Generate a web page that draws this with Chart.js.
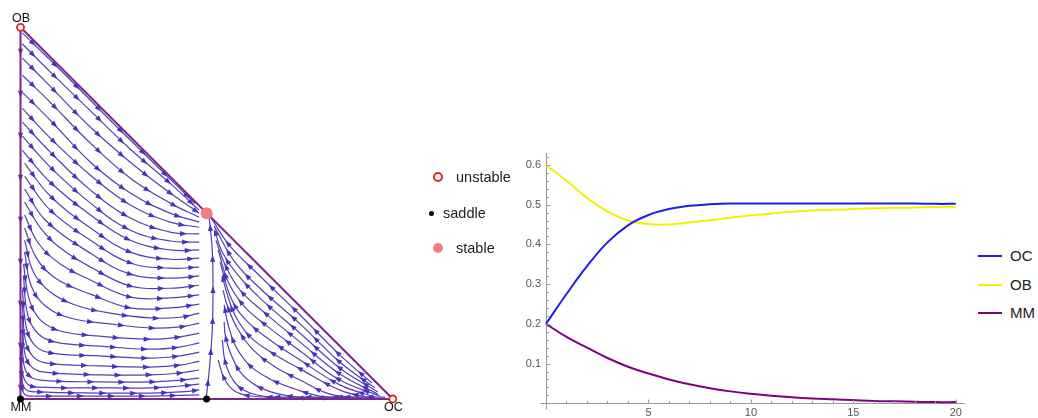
<!DOCTYPE html>
<html>
<head>
<meta charset="utf-8">
<script src="https://cdn.jsdelivr.net/npm/chart.js@4.4.1/dist/chart.umd.min.js"></script>
<style>
  body { margin:0; width:1038px; height:418px; position:relative; background:#fff; overflow:hidden;
         font-family:"Liberation Sans", Arial, sans-serif; color:#222; }
  .box { position:absolute; }
  .txt { position:absolute; white-space:nowrap; line-height:18px; }
  .mk { position:absolute; border-radius:50%; box-sizing:border-box; }
  .ln { position:absolute; height:2px; width:24px; }
</style>
</head>
<body>
<div class="box" style="left:0;top:0;width:420px;height:418px"><canvas id="tri"></canvas></div>
<div class="box" style="left:500px;top:0;width:470px;height:418px"><canvas id="ts"></canvas></div>

<!-- fixed point legend -->
<div class="mk" style="left:433px;top:172px;width:10px;height:10px;border:2px solid #e3241f;background:#fff"></div>
<div class="txt" style="left:456px;top:168px;font-size:14.5px">unstable</div>
<div class="mk" style="left:428.5px;top:210.5px;width:5px;height:5px;background:#000"></div>
<div class="txt" style="left:443px;top:204px;font-size:14.5px">saddle</div>
<div class="mk" style="left:433px;top:243px;width:10px;height:10px;background:#f08080"></div>
<div class="txt" style="left:456px;top:239px;font-size:14.5px">stable</div>

<!-- time series legend -->
<div class="ln" style="left:978px;top:255px;background:#1e1ee6"></div>
<div class="txt" style="left:1010px;top:247px;font-size:15px">OC</div>
<div class="ln" style="left:978px;top:284px;background:#f2f200"></div>
<div class="txt" style="left:1010px;top:276px;font-size:15px">OB</div>
<div class="ln" style="left:978px;top:312px;background:#800080"></div>
<div class="txt" style="left:1010px;top:304px;font-size:15px">MM</div>

<script>
// ---------------- time series data ----------------
const timeSteps = [0,1,2,3,4,5,6,7,8,9,10,11,12,13,14,15,16,17,18,19,20];
const shareOC = [0.200,0.275,0.345,0.405,0.448,0.474,0.489,0.497,0.501,0.503,0.503,0.503,0.503,0.503,0.503,0.503,0.503,0.503,0.503,0.502,0.502];
const shareOB = [0.600,0.560,0.517,0.483,0.460,0.451,0.450,0.455,0.461,0.467,0.473,0.478,0.482,0.485,0.487,0.489,0.491,0.492,0.493,0.494,0.495];
const shareMM = [0.200,0.167,0.140,0.114,0.092,0.075,0.060,0.048,0.038,0.030,0.024,0.019,0.015,0.012,0.010,0.008,0.006,0.005,0.004,0.003,0.003];
const yTickValues = [0.1,0.2,0.3,0.4,0.5,0.6];
const xTickValues = [5,10,15,20];

// ---------------- simplex (x = OC share, y = OB share) ----------------
const vertexNames = ['OB','MM','OC'];
const vertexPoints = [[0,1],[0,0],[1,0]];
const unstablePoints = [[0,1],[1,0]];
const saddlePoints = [[0,0],[0.5,0]];
const stablePoints = [[0.5,0.5]];

const edgeLeft = [[0,1],[0,0]];
const edgeBottom = [[0,0],[1,0]];
const edgeHyp = [[0,1],[1,0]];

// streamlines left of the separatrix (flow toward the stable point)
const sA00 = [[0.005,0.985],[0.107,0.885],[0.241,0.750],[0.375,0.618],[0.469,0.526]];
const sA01 = [[0.005,0.955],[0.080,0.880],[0.188,0.775],[0.295,0.672],[0.402,0.580],[0.480,0.508]];
const sA02 = [[0.005,0.917],[0.080,0.841],[0.188,0.731],[0.295,0.637],[0.402,0.554],[0.480,0.500]];
const sA03 = [[0.005,0.871],[0.080,0.798],[0.188,0.688],[0.295,0.594],[0.402,0.527],[0.480,0.489]];
const sA04 = [[0.005,0.825],[0.080,0.750],[0.188,0.637],[0.295,0.554],[0.402,0.500],[0.480,0.476]];
const sA05 = [[0.005,0.782],[0.080,0.702],[0.188,0.602],[0.295,0.522],[0.402,0.476],[0.480,0.462]];
const sA06 = [[0.005,0.745],[0.080,0.664],[0.188,0.562],[0.295,0.487],[0.402,0.449],[0.480,0.444]];
const sA07 = [[0.005,0.707],[0.080,0.624],[0.188,0.527],[0.295,0.454],[0.402,0.425],[0.480,0.422]];
const sA08 = [[0.005,0.669],[0.080,0.583],[0.188,0.495],[0.295,0.427],[0.402,0.401],[0.480,0.401]];
const sA09 = [[0.011,0.634],[0.080,0.546],[0.188,0.460],[0.295,0.395],[0.402,0.376],[0.480,0.379]];
const sA10 = [[0.011,0.599],[0.080,0.508],[0.188,0.427],[0.295,0.366],[0.402,0.352],[0.480,0.355]];
const sA11 = [[0.011,0.565],[0.067,0.481],[0.188,0.392],[0.295,0.336],[0.402,0.325],[0.480,0.331]];
const sA12 = [[0.011,0.530],[0.054,0.460],[0.107,0.406],[0.188,0.355],[0.295,0.304],[0.402,0.298],[0.480,0.306]];
const sA13 = [[0.011,0.495],[0.048,0.419],[0.107,0.363],[0.188,0.320],[0.295,0.274],[0.402,0.272],[0.480,0.280]];
const sA14 = [[0.011,0.460],[0.043,0.379],[0.094,0.325],[0.188,0.282],[0.295,0.245],[0.402,0.245],[0.480,0.255]];
const sA15 = [[0.011,0.427],[0.035,0.341],[0.080,0.288],[0.147,0.253],[0.241,0.231],[0.349,0.218],[0.429,0.220],[0.480,0.231]];
const sA16 = [[0.011,0.395],[0.029,0.304],[0.067,0.250],[0.134,0.218],[0.241,0.202],[0.349,0.191],[0.429,0.194],[0.480,0.204]];
const sA17 = [[0.008,0.363],[0.024,0.266],[0.054,0.212],[0.107,0.183],[0.214,0.169],[0.349,0.161],[0.429,0.167],[0.480,0.177]];
const sA18 = [[0.008,0.331],[0.019,0.228],[0.046,0.177],[0.094,0.153],[0.214,0.142],[0.349,0.134],[0.429,0.140],[0.480,0.151]];
const sA19 = [[0.005,0.293],[0.016,0.191],[0.038,0.145],[0.080,0.124],[0.214,0.116],[0.349,0.110],[0.429,0.116],[0.480,0.126]];
const sA20 = [[0.005,0.255],[0.013,0.159],[0.032,0.116],[0.067,0.097],[0.214,0.089],[0.349,0.086],[0.429,0.091],[0.480,0.102]];
const sA21 = [[0.005,0.218],[0.011,0.126],[0.027,0.089],[0.059,0.073],[0.214,0.065],[0.349,0.065],[0.429,0.070],[0.480,0.078]];
const sA22 = [[0.005,0.180],[0.008,0.099],[0.021,0.065],[0.054,0.051],[0.214,0.046],[0.349,0.046],[0.429,0.051],[0.480,0.056]];
const sA23 = [[0.003,0.142],[0.005,0.073],[0.019,0.040],[0.048,0.032],[0.214,0.030],[0.349,0.030],[0.429,0.035],[0.480,0.040]];
const sA24 = [[0.003,0.105],[0.005,0.046],[0.016,0.024],[0.043,0.019],[0.214,0.016],[0.349,0.016],[0.429,0.019],[0.480,0.024]];
const sA25 = [[0.003,0.067],[0.005,0.027],[0.013,0.011],[0.038,0.008],[0.214,0.008],[0.349,0.008],[0.480,0.011]];

// streamlines right of the separatrix (flow from OC toward the stable point)
const sR01 = [[0.944,0.043],[0.858,0.118],[0.751,0.226],[0.643,0.331],[0.563,0.411],[0.512,0.487]];
const sR02 = [[0.952,0.030],[0.858,0.099],[0.751,0.202],[0.643,0.298],[0.576,0.368],[0.520,0.465]];
const sR03 = [[0.960,0.019],[0.858,0.083],[0.751,0.177],[0.649,0.266],[0.584,0.333],[0.542,0.395],[0.523,0.449]];
const sR04 = [[0.960,0.013],[0.858,0.067],[0.751,0.153],[0.657,0.231],[0.590,0.293],[0.550,0.360],[0.525,0.427]];
const sR05 = [[0.965,0.008],[0.858,0.051],[0.751,0.129],[0.665,0.194],[0.603,0.247],[0.558,0.315],[0.531,0.401]];
const sR06 = [[0.952,0.005],[0.858,0.038],[0.751,0.105],[0.670,0.159],[0.611,0.207],[0.568,0.266],[0.536,0.368]];
const sR07 = [[0.938,0.003],[0.858,0.024],[0.751,0.081],[0.676,0.124],[0.617,0.167],[0.576,0.226],[0.552,0.293],[0.542,0.331]];
const sR08 = [[0.917,0.003],[0.831,0.013],[0.751,0.051],[0.684,0.086],[0.625,0.132],[0.582,0.191],[0.555,0.253],[0.544,0.293]];
const sR09 = [[0.885,0.003],[0.804,0.008],[0.737,0.027],[0.670,0.054],[0.617,0.089],[0.579,0.140],[0.558,0.199],[0.547,0.253]];
const sR10 = [[0.845,0.003],[0.751,0.005],[0.684,0.016],[0.630,0.038],[0.590,0.073],[0.563,0.126],[0.550,0.172],[0.547,0.207]];
const sR11 = [[0.791,0.003],[0.710,0.003],[0.649,0.008],[0.603,0.022],[0.571,0.051],[0.550,0.099],[0.542,0.159]];
const sR12 = [[0.979,0.005],[0.831,0.005],[0.697,0.005],[0.617,0.008],[0.574,0.022],[0.547,0.056],[0.531,0.105]];

// separatrix from the saddle up to the stable point
const sSep = [[0.499,0.005],[0.507,0.078],[0.515,0.185],[0.517,0.293],[0.515,0.401],[0.507,0.487]];

const leftStreams = [sA00,sA01,sA02,sA03,sA04,sA05,sA06,sA07,sA08,sA09,sA10,sA11,sA12,sA13,sA14,sA15,sA16,sA17,sA18,sA19,sA20,sA21,sA22,sA23,sA24,sA25];
const rightStreams = [sR01,sR02,sR03,sR04,sR05,sR06,sR07,sR08,sR09,sR10,sR11,sR12,sSep];

// ---------------- styles ----------------
const STREAM = 'rgb(88,62,178)';
const ARROW = 'rgb(72,50,190)';
const EDGE = 'rgb(122,38,138)';
const FONT = '"Liberation Sans", Arial, sans-serif';

const toXY = arr => arr.map(p => ({x:p[0], y:p[1]}));

const arrowPlugin = {
  id: 'streamArrows',
  afterDatasetDraw(chart, args) {
    const ds = chart.data.datasets[args.index];
    if (!ds.arrowGap) return;
    const pts = args.meta.data;
    if (pts.length < 2) return;
    const poly = [];
    for (let i = 0; i < pts.length - 1; i++) {
      const a = pts[i], b = pts[i+1];
      const c1x = a.cp2x !== undefined ? a.cp2x : a.x, c1y = a.cp2y !== undefined ? a.cp2y : a.y;
      const c2x = b.cp1x !== undefined ? b.cp1x : b.x, c2y = b.cp1y !== undefined ? b.cp1y : b.y;
      for (let k = 0; k < 16; k++) {
        const t = k/16, u = 1-t;
        poly.push([u*u*u*a.x + 3*u*u*t*c1x + 3*u*t*t*c2x + t*t*t*b.x,
                   u*u*u*a.y + 3*u*u*t*c1y + 3*u*t*t*c2y + t*t*t*b.y]);
      }
    }
    const last = pts[pts.length-1];
    poly.push([last.x, last.y]);
    const ctx = chart.ctx;
    ctx.save();
    ctx.fillStyle = ds.arrowColor;
    let acc = 0, next = ds.arrowStart;
    for (let i = 0; i < poly.length - 1; i++) {
      const dx = poly[i+1][0]-poly[i][0], dy = poly[i+1][1]-poly[i][1];
      const L = Math.hypot(dx, dy);
      if (L === 0) continue;
      while (acc + L >= next) {
        const f = (next - acc)/L;
        const x = poly[i][0] + dx*f, y = poly[i][1] + dy*f;
        const ux = dx/L, uy = dy/L;
        const len = 7, hw = 2.6;
        ctx.beginPath();
        ctx.moveTo(x + ux*len*0.5, y + uy*len*0.5);
        ctx.lineTo(x - ux*len*0.5 - uy*hw, y - uy*len*0.5 + ux*hw);
        ctx.lineTo(x - ux*len*0.5 + uy*hw, y - uy*len*0.5 - ux*hw);
        ctx.closePath();
        ctx.fill();
        next += ds.arrowGap;
      }
      acc += L;
    }
    ctx.restore();
  }
};

const vertexLabelPlugin = {
  id: 'vertexLabels',
  afterDraw(chart) {
    const ctx = chart.ctx, xs = chart.scales.x, ys = chart.scales.y;
    ctx.save();
    ctx.font = '12.5px ' + FONT;
    ctx.fillStyle = '#111';
    ctx.textAlign = 'center';
    ctx.textBaseline = 'middle';
    vertexNames.forEach((name, i) => {
      const px = xs.getPixelForValue(vertexPoints[i][0]);
      const py = ys.getPixelForValue(vertexPoints[i][1]);
      const dy = vertexPoints[i][1] > 0.5 ? -9 : 8.5;
      ctx.fillText(name, px + 0.5, py + dy);
    });
    ctx.restore();
  }
};

const streamDatasets = [...leftStreams, ...rightStreams].map(s => ({
  data: toXY(s), showLine: true, borderColor: STREAM, borderWidth: 1.2,
  pointRadius: 0, tension: 0.4, order: 3, clip: false,
  arrowGap: 31, arrowStart: 15, arrowColor: ARROW
}));

const edgeDatasets = [
  {data: toXY(edgeLeft), arrowGap: 42, arrowStart: 25, arrowColor: EDGE},
  {data: toXY(edgeBottom)},
  {data: toXY(edgeHyp)}
].map(d => Object.assign({showLine: true, borderColor: EDGE, borderWidth: 2, pointRadius: 0, order: 2, clip: false}, d));

const markerDatasets = [
  {data: toXY(unstablePoints), pointRadius: 3.5, pointBorderWidth: 1.8, pointBorderColor: '#e3241f', pointBackgroundColor: '#fff'},
  {data: toXY(saddlePoints), pointRadius: 3.5, pointBorderWidth: 0, pointBackgroundColor: '#000', pointBorderColor: '#000'},
  {data: toXY(stablePoints), pointRadius: 6, pointBorderWidth: 0, pointBackgroundColor: '#f08080', pointBorderColor: '#f08080'}
].map(d => Object.assign({showLine: false, order: 0, clip: false}, d));

new Chart(document.getElementById('tri'), {
  type: 'scatter',
  data: { datasets: [...markerDatasets, ...edgeDatasets, ...streamDatasets] },
  options: {
    responsive: true, maintainAspectRatio: false, animation: false,
    layout: { padding: { left: 20.5, right: 27.2, top: 27.3, bottom: 19 } },
    scales: {
      x: { type: 'linear', min: 0, max: 1, display: false },
      y: { type: 'linear', min: 0, max: 1, display: false }
    },
    plugins: { legend: { display: false }, tooltip: { enabled: false } },
    events: []
  },
  plugins: [arrowPlugin, vertexLabelPlugin]
});

// ---------------- time series chart ----------------
const insideTicksPlugin = {
  id: 'insideTicks',
  afterDraw(chart) {
    const ctx = chart.ctx, xs = chart.scales.x, ys = chart.scales.y;
    const x0 = Math.round(xs.getPixelForValue(0)) + 0.5;
    const y0 = Math.round(ys.getPixelForValue(0)) + 0.5;
    ctx.save();
    ctx.strokeStyle = '#9a9a9a';
    ctx.lineWidth = 1;
    ctx.beginPath();
    for (let k = 1; k <= 31; k++) {
      const v = k * 0.02;
      const y = Math.round(ys.getPixelForValue(v)) + 0.5;
      const len = (k % 5 === 0) ? 4 : 2.5;
      ctx.moveTo(x0, y); ctx.lineTo(x0 + len, y);
    }
    for (let k = 1; k <= 20; k++) {
      const x = Math.round(xs.getPixelForValue(k)) + 0.5;
      const len = (k % 5 === 0) ? 4 : 2.5;
      ctx.moveTo(x, y0); ctx.lineTo(x, y0 - len);
    }
    ctx.moveTo(x0 - 6, y0); ctx.lineTo(x0, y0);
    ctx.moveTo(x0, y0); ctx.lineTo(x0, y0 + 6);
    ctx.stroke();
    ctx.restore();
  }
};

const series = (vals) => timeSteps.map((t, i) => ({x: t, y: vals[i]}));

new Chart(document.getElementById('ts'), {
  type: 'line',
  data: {
    datasets: [
      {label: 'OC', data: series(shareOC), borderColor: '#1e1ee6'},
      {label: 'OB', data: series(shareOB), borderColor: '#f2f200'},
      {label: 'MM', data: series(shareMM), borderColor: '#800080'}
    ].map(d => Object.assign({borderWidth: 2, pointRadius: 0, tension: 0.4, fill: false, clip: false}, d))
  },
  options: {
    responsive: true, maintainAspectRatio: false, animation: false,
    layout: { padding: { left: 0, right: 6, top: 153, bottom: 0 } },
    scales: {
      x: {
        type: 'linear', min: 0, max: 20.4,
        grid: { display: false, drawTicks: false },
        border: { display: true, color: '#9a9a9a' },
        afterBuildTicks: s => { s.ticks = xTickValues.map(v => ({value: v})); },
        afterFit: s => { s.height = 14.7; },
        ticks: { padding: 3, color: '#555', font: { family: FONT, size: 11 }, maxRotation: 0, autoSkip: false,
                 callback: v => String(v) }
      },
      y: {
        type: 'linear', min: 0, max: 0.63,
        grid: { display: false, drawTicks: false },
        border: { display: true, color: '#9a9a9a' },
        afterBuildTicks: s => { s.ticks = yTickValues.map(v => ({value: v})); },
        afterFit: s => { s.width = 46; },
        ticks: { padding: 5, color: '#555', font: { family: FONT, size: 11 }, autoSkip: false,
                 callback: v => Number(v).toFixed(1) }
      }
    },
    plugins: { legend: { display: false }, tooltip: { enabled: false } },
    events: []
  },
  plugins: [insideTicksPlugin]
});
</script>
</body>
</html>
